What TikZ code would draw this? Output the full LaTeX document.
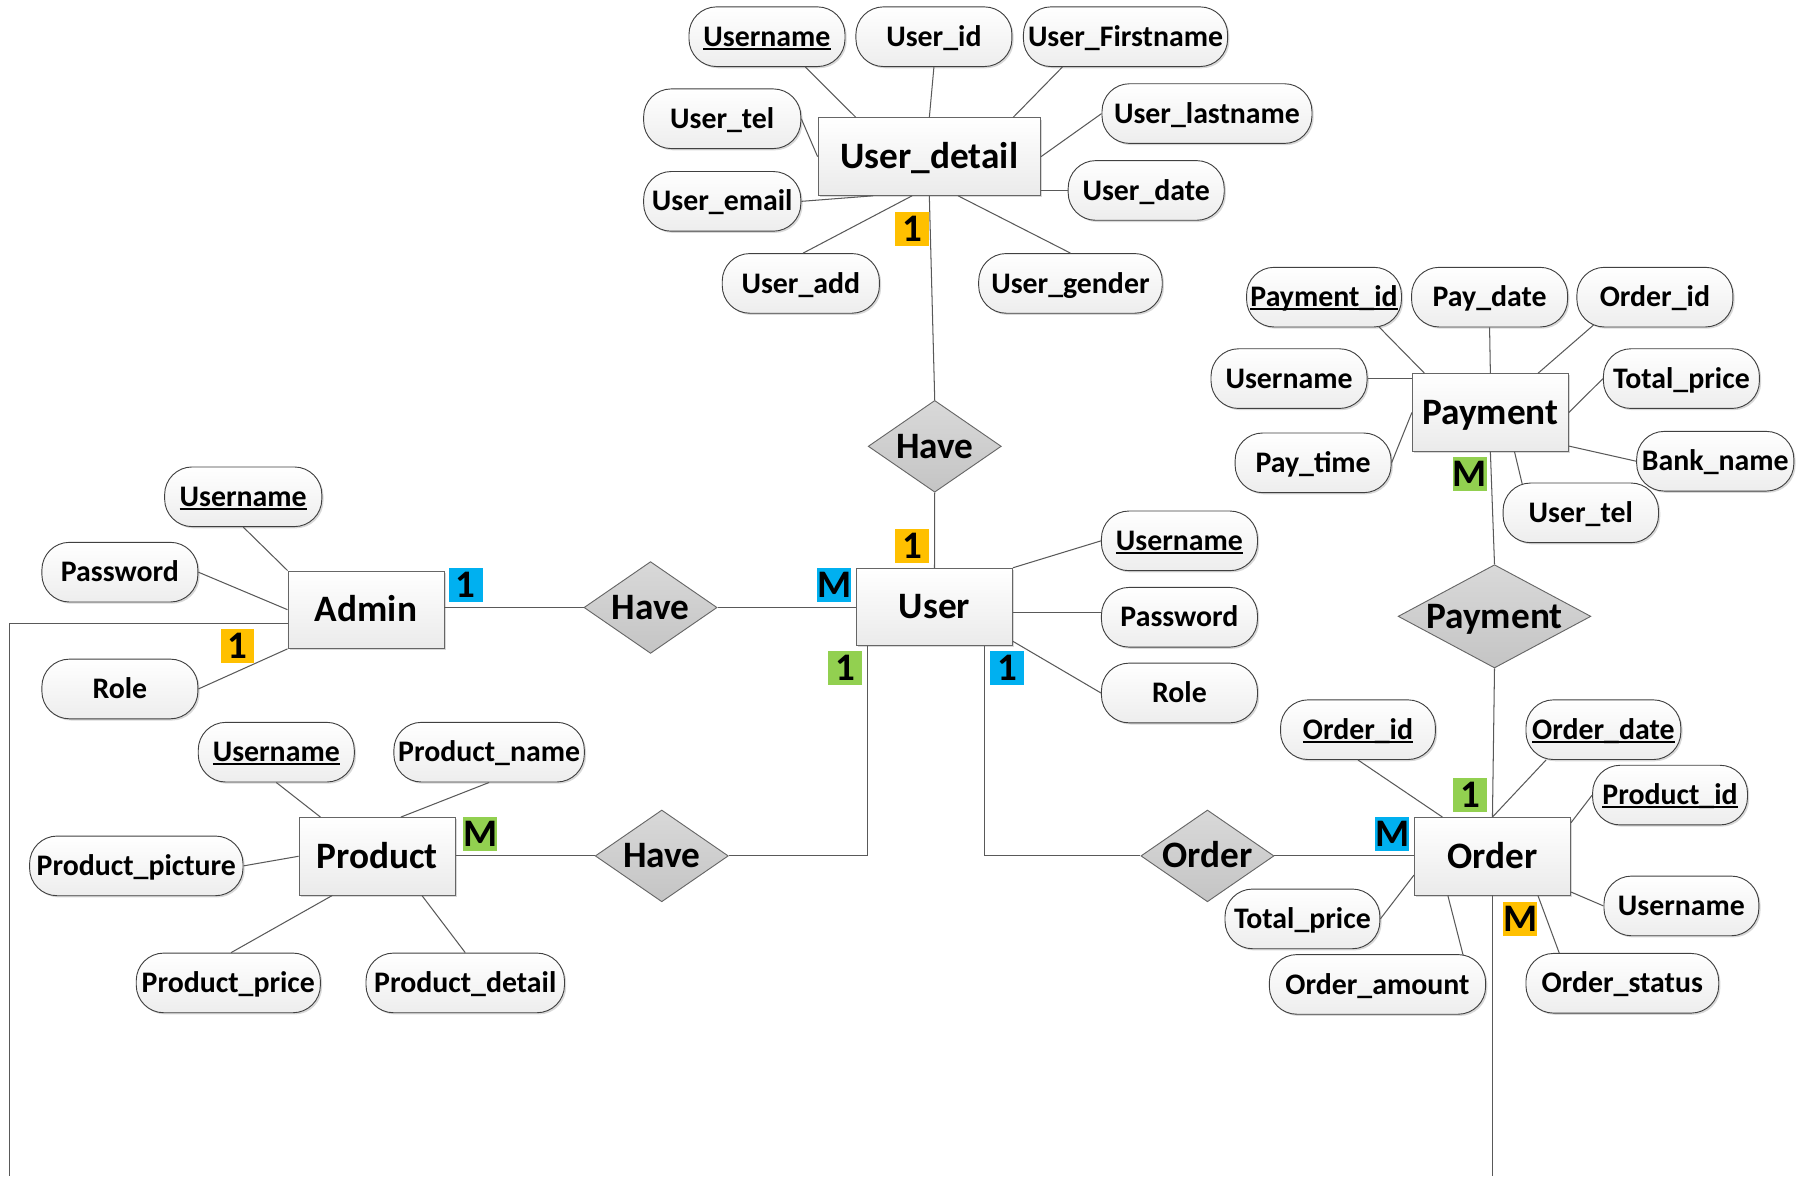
\documentclass[tikz,border=0pt]{standalone}
\usepackage{fontspec}
\setmainfont{Carlito}
\usetikzlibrary{shapes.geometric,shadows}
\definecolor{bOrange}{HTML}{FFC000}
\definecolor{bBlue}{HTML}{00B0F0}
\definecolor{bGreen}{HTML}{92D050}
\newcommand\keyattr[1]{\setbox0\hbox{#1}\rlap{\rule[-0.12em]{\wd0}{0.075em}}\box0}
\newcommand\reltext[1]{\makebox[0pt]{\smash{\raisebox{-0.32em}{#1}}}}
\begin{document}
\begin{tikzpicture}[x=1pt,y=-1pt,
  attr/.style={rectangle, rounded corners=24pt, draw=black!75, line width=0.8pt,
    top color=white, bottom color=gray!14, minimum height=52pt, minimum width=136pt,
    inner sep=0pt, text height=18pt, text depth=1.2pt,
    font=\fontsize{26}{30}\selectfont\bfseries,
    drop shadow={shadow xshift=1.5pt, shadow yshift=-1.5pt, opacity=0.3}},
  ent/.style={rectangle, draw=black!60, line width=0.8pt,
    top color=white, bottom color=gray!16, minimum height=67.5pt, minimum width=136pt,
    inner sep=0pt, text height=22pt, text depth=1pt,
    font=\fontsize{32.5}{36}\selectfont\bfseries,
    drop shadow={shadow xshift=1.5pt, shadow yshift=-1.5pt, opacity=0.3}},
  rel/.style={diamond, draw=black!60, line width=0.8pt,
    top color=gray!30, bottom color=gray!46, inner sep=0pt,
    minimum width=116pt, minimum height=80pt,
    font=\fontsize{32.5}{36}\selectfont\bfseries},
  badge/.style={rectangle, inner sep=0pt, minimum size=29.5pt,
    text height=22.4pt, text depth=1pt,
    font=\fontsize{34}{36}\selectfont\bfseries},
  conn/.style={draw=black!65, line width=0.9pt}]
\fill[white] (0,0) rectangle (1568,1025);
\useasboundingbox (0,0) rectangle (1568,1025);

% ---------- User_detail ----------
\node[ent, minimum width=194pt] (ud) at (810,136.5) {User\_detail};
\node[attr] (a1) at (668.5,32) {\keyattr{Username}};
\node[attr] (a2) at (814,32) {User\_id};
\node[attr, minimum width=178pt] (a3) at (981,32) {User\_Firstname};
\node[attr, minimum width=137pt] (a4) at (629.5,103.5) {User\_tel};
\node[attr, minimum width=183pt] (a5) at (1052,99) {User\_lastname};
\node[attr, minimum width=137pt] (a6) at (629.5,175.5) {User\_email};
\node[attr] (a7) at (999,166) {User\_date};
\node[attr, minimum width=137pt] (a8) at (698,247) {User\_add};
\node[attr, minimum width=160pt] (a9) at (933,247) {User\_gender};

% ---------- User ----------
\node[rel] (h1) at (814.7,389) {\reltext{Have}};
\node[ent] (us) at (814.5,529) {User};
\node[attr] (b1) at (1028,471.4) {\keyattr{Username}};
\node[attr] (b2) at (1028,538) {Password};
\node[attr] (b3) at (1028,604) {Role};

% ---------- Admin ----------
\node[ent] (ad) at (319,531.4) {Admin};
\node[attr, minimum width=137pt] (c1) at (212,433) {\keyattr{Username}};
\node[attr] (c2) at (104.5,498.7) {Password};
\node[attr] (c3) at (104.5,600.5) {Role};
\node[rel] (h2) at (567,529.5) {\reltext{Have}};

% ---------- Product ----------
\node[ent] (pr) at (328.7,746.3) {Product};
\node[attr] (d1) at (240.8,655.6) {\keyattr{Username}};
\node[attr, minimum width=166pt] (d2) at (426.3,655.6) {Product\_name};
\node[attr, minimum width=186pt] (d3) at (118.8,754.7) {Product\_picture};
\node[attr, minimum width=160.5pt] (d4) at (199,856.7) {Product\_price};
\node[attr, minimum width=173pt] (d5) at (405.5,856.7) {Product\_detail};
\node[rel] (h3) at (576.8,746) {\reltext{Have}};

% ---------- Order ----------
\node[rel] (od) at (1052.4,746) {\reltext{Order}};
\node[ent] (or) at (1300.8,746.3) {Order};
\node[attr, minimum width=135pt] (e1) at (1183.6,636) {\keyattr{Order\_id}};
\node[attr, minimum width=135pt] (e2) at (1397.5,636) {\keyattr{Order\_date}};
\node[attr, minimum width=135pt] (e3) at (1455.6,693) {\keyattr{Product\_id}};
\node[attr, minimum width=135pt] (e4) at (1465.5,789.6) {Username};
\node[attr, minimum width=135pt] (e5) at (1135.2,800.9) {Total\_price};
\node[attr, minimum width=188.5pt] (e6) at (1200.6,858) {Order\_amount};
\node[attr, minimum width=168pt] (e7) at (1414,857) {Order\_status};

% ---------- Payment ----------
\node[ent] (pm) at (1299,359.5) {Payment};
\node[rel, minimum width=168pt, minimum height=90pt] (pd) at (1302.6,537.2) {\reltext{Payment}};
\node[attr, minimum width=135pt] (f1) at (1154,259) {\keyattr{Payment\_id}};
\node[attr] (f2) at (1298.3,259) {Pay\_date};
\node[attr] (f3) at (1442.4,259) {Order\_id};
\node[attr] (f4) at (1123.5,330) {Username};
\node[attr] (f5) at (1465.5,330) {Total\_price};
\node[attr] (f6) at (1144.5,403.4) {Pay\_time};
\node[attr, minimum width=137pt] (f7) at (1495,402) {Bank\_name};
\node[attr, minimum width=135.5pt] (f8) at (1377.8,447) {User\_tel};

% ---------- badges ----------
\node[badge, fill=bOrange] (k1) at (795,199.5) {1};
\node[badge, fill=bOrange] (k2) at (795,476) {1};
\node[badge, fill=bBlue] (k3) at (727,510) {M};
\node[badge, fill=bGreen] (k4) at (736.5,582.5) {1};
\node[badge, fill=bBlue] (k5) at (877.7,582.5) {1};
\node[badge, fill=bBlue] (k6) at (406,510) {1};
\node[badge, fill=bOrange] (k7) at (207,563) {1};
\node[badge, fill=bGreen] (k8) at (418.6,727) {M};
\node[badge, fill=bGreen] (k9) at (1281,413) {M};
\node[badge, fill=bGreen] (k10) at (1281.3,693) {1};
\node[badge, fill=bBlue] (k11) at (1213.3,727) {M};
\node[badge, fill=bOrange] (k12) at (1325,801.3) {M};

% ---------- connectors ----------
\draw[conn] ([xshift=33.5pt]a1.south) -- ([xshift=-64pt]ud.north);
\draw[conn] (a2.south) -- (ud.north);
\draw[conn] ([xshift=-55pt]a3.south) -- ([xshift=73pt]ud.north);
\draw[conn] (a4.east) -- (ud.west);
\draw[conn] (a5.west) -- (ud.east);
\draw[conn] (a7.west) -- (a7.west -| ud.east);
\draw[conn] (a6.east) -- ([xshift=-49pt]ud.south);
\draw[conn] ([xshift=2pt]a8.north) -- ([xshift=-15pt]ud.south);
\draw[conn] (a9.north) -- ([xshift=25pt]ud.south);
\draw[conn] (ud.south) -- (h1.north);
\draw[conn] (h1.south) -- (us.north);
\draw[conn] (b1.west) -- (us.north east);
\draw[conn] ([yshift=4pt]b2.west) -- ([yshift=4pt]b2.west -| us.east);
\draw[conn] (b3.west) -- ([yshift=-30pt]us.east);

\draw[conn] (c1.south) -- (ad.north west);
\draw[conn] (c2.east) -- (ad.west);
\draw[conn] (c3.east) -- (ad.south west);
\draw[conn] (h2.west) -- (h2.west -| ad.east);
\draw[conn] (h2.east) -- (h2.east -| us.west);
\coordinate (lb) at (8,1025);
\draw[conn] ([yshift=-12pt]ad.west) -| (lb);

\draw[conn] (d1.south) -- ([xshift=-49.4pt]pr.north);
\draw[conn] (d2.south) -- ([xshift=20.7pt]pr.north);
\draw[conn] (d3.east) -- (pr.west);
\draw[conn] ([xshift=2.4pt]d4.north) -- ([xshift=-39pt]pr.south);
\draw[conn] (d5.north) -- ([xshift=39pt]pr.south);
\draw[conn] (h3.west) -- (h3.west -| pr.east);
\draw[conn] (h3.east) -| ([xshift=-58.2pt]us.south);

\draw[conn] (od.west) -| ([xshift=43.8pt]us.south);
\draw[conn] (od.east) -- (od.east -| or.west);
\draw[conn] (e1.south) -- ([xshift=-43.6pt]or.north);
\draw[conn] ([xshift=-50pt]e2.south) -- (or.north);
\draw[conn] (e3.west) -- ([yshift=-5pt]or.north east);
\draw[conn] (e4.west) -- ([yshift=3pt]or.south east);
\draw[conn] (e5.east) -- ([yshift=-16.4pt]or.west);
\draw[conn] ([xshift=74.8pt,yshift=-1.5pt]e6.north) -- ([xshift=-38.9pt]or.south);
\draw[conn] ([xshift=-55pt]e7.north) -- ([xshift=39.6pt]or.south);
\coordinate (rb) at (1300.8,1025);
\draw[conn] (or.south) -- (rb);

\draw[conn] (pd.south) -- (or.north);
\draw[conn] (pm.south) -- (pd.north);
\draw[conn] ([xshift=47.4pt,yshift=1pt]f1.south) -- ([xshift=11pt]pm.north west);
\draw[conn] (f2.south) -- (pm.north);
\draw[conn] ([xshift=-53.6pt,yshift=2pt]f3.south) -- ([xshift=41.5pt]pm.north);
\draw[conn] (f4.east) -- (f4.east -| pm.west);
\draw[conn] (f5.west) -- (pm.east);
\draw[conn] (f6.east) -- (pm.west);
\draw[conn] (f7.west) -- ([yshift=-29.3pt]pm.east);
\draw[conn] ([xshift=-51pt,yshift=-1.5pt]f8.north) -- ([xshift=21pt]pm.south);
\end{tikzpicture}
\end{document}
